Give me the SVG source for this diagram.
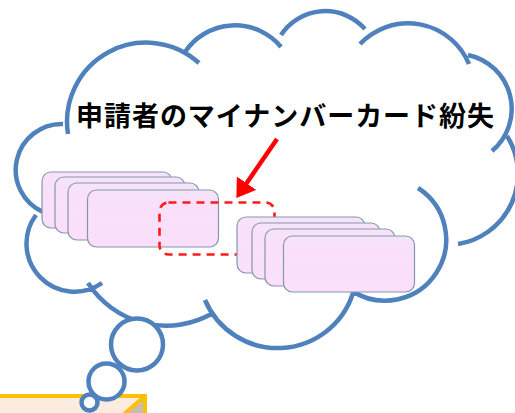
<svg xmlns="http://www.w3.org/2000/svg" width="515" height="413" viewBox="0 0 515 413">
  <defs>
    <linearGradient id="cardFill" x1="0" y1="0" x2="0" y2="1">
      <stop offset="0" stop-color="#F5E4F8"/>
      <stop offset="0.2" stop-color="#F9E0FA"/>
      <stop offset="1" stop-color="#FBDFFB"/>
    </linearGradient>
    <marker id="redHead" markerUnits="userSpaceOnUse" markerWidth="20" markerHeight="24" refX="1" refY="11.75" orient="auto">
      <path d="M0,0 L18,11.75 L0,23.5 z" fill="#FF0000"/>
    </marker>
    <style>
      .cloud { fill: none; stroke: #4F81BD; stroke-width: 4.5; stroke-linecap: butt; }
      .bubble { fill: #FFFFFF; stroke: #4F81BD; stroke-width: 4.5; }
      .card { fill: url(#cardFill); stroke: #8595AD; stroke-width: 1.2; }
      .lost { fill: none; stroke: #FF1A1A; stroke-width: 2.6; stroke-dasharray: 8 6; }
      .arrow { fill: none; stroke: #FF0000; stroke-width: 4.5; }
      .title { font-family: "Noto Sans CJK JP", "Noto Sans", sans-serif; font-weight: bold; font-size: 27px; fill: #000000; }
    </style>
  </defs>

  <rect width="515" height="413" fill="#FFFFFF"/>

  <g id="note-box">
    <rect x="-4" y="396" width="149" height="22" fill="#FCEBDF"/>
    <polygon points="145,396 145,415 123,415" fill="#C9BCB2"/>
    <path d="M-4,396 L145,396 L145,415 M145,396 L123,415" fill="none" stroke="#FFC000" stroke-width="4"/>
  </g>

  <g id="thought-cloud">
    <path class="cloud" d="M102,283 A48,48 0 0,1 36,215
      M43,212 A46,46 0 0,1 63,124
      M68,134 A79,79 0 0,1 199,63
      M185,52 A60,60 0 0,1 281,47
      M281,35 A53,53 0 0,1 365,29
      M360,44 A66,66 0 0,1 469,64
      M468,55 A55,55 0 0,1 492,151
      M507,136 A71,71 0 0,1 458,244
      M418,188 A61,61 0 1,1 352,291
      M353,293 A79,79 0 0,1 205,300
      M213,313 A93,93 0 0,1 88,283"/>
    <circle class="bubble" cx="137" cy="344.5" r="26"/>
    <circle class="bubble" cx="106.5" cy="381.5" r="18"/>
    <circle class="bubble" cx="89.5" cy="402.5" r="8"/>
  </g>

  <g id="cards-left">
    <rect class="card" x="42" y="172" width="130" height="56" rx="9"/>
    <rect class="card" x="55" y="177" width="130" height="56" rx="9"/>
    <rect class="card" x="68" y="183" width="131" height="57" rx="9"/>
    <rect class="card" x="87.5" y="190" width="131" height="57" rx="9"/>
  </g>

  <g id="lost-card">
    <rect class="lost" x="159.5" y="202.5" width="115" height="52" rx="9"/>
  </g>

  <g id="cards-right">
    <rect class="card" x="237" y="217" width="128" height="56" rx="9"/>
    <rect class="card" x="252" y="223" width="128" height="56" rx="9"/>
    <rect class="card" x="265" y="229" width="130" height="57" rx="9"/>
    <rect class="card" x="283.5" y="236" width="131" height="56" rx="9"/>
  </g>

  <g id="connectors">
    <line class="arrow" x1="277" y1="139" x2="246" y2="184" marker-end="url(#redHead)"/>
  </g>

  <g id="label">
    <text class="title" x="76" y="126" textLength="418" lengthAdjust="spacing">申請者のマイナンバーカード紛失</text>
  </g>
</svg>
